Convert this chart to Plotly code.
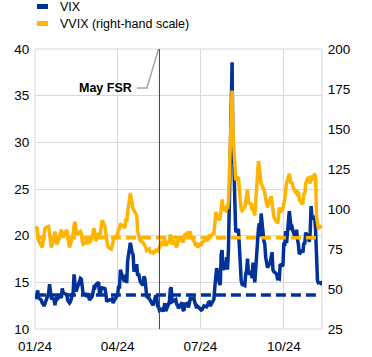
import pandas as pd
import plotly.graph_objects as go

# ---------------- data ----------------
vix_jan = [13.20, 14.04, 14.13, 13.35, 13.08, 12.76, 12.69, 12.44, 12.70, 13.84, 14.79, 14.13, 13.30, 13.19, 12.55, 13.14, 13.45, 13.26, 13.60, 13.31, 14.35]
vix_feb = [13.88, 13.85, 13.67, 13.06, 12.83, 12.79, 12.93, 13.93, 15.85, 14.38, 14.01, 14.24, 15.42, 15.34, 14.54, 13.75, 13.74, 13.43, 13.84, 13.40]
vix_mar = [13.11, 13.49, 14.46, 14.50, 14.44, 14.74, 15.01, 13.75, 13.75, 14.40, 14.41, 14.33, 13.82, 12.92, 13.06, 13.06, 13.19, 13.24, 12.78, 13.01]
vix_apr = [13.65, 14.61, 14.33, 16.35, 16.03, 15.19, 15.20, 15.80, 14.91, 17.31, 19.23, 18.40, 18.21, 18.00, 16.14, 16.94, 15.69, 15.97, 15.37, 15.03, 14.67, 15.65]
vix_may = [15.39, 14.68, 13.49, 13.23, 13.00, 12.69, 12.69, 12.55, 13.60, 13.42, 12.45, 12.42, 11.99, 12.15, 11.86, 12.29, 12.77, 11.93, 12.92, 14.28, 14.47, 12.92]
vix_jun = [13.11, 13.16, 12.63, 12.58, 12.22, 12.74, 12.85, 12.04, 11.94, 12.66, 12.75, 12.30, 13.28, 13.20, 13.33, 12.84, 12.55, 12.24, 12.44]
vix_jul = [12.22, 12.03, 12.09, 12.48, 12.37, 12.51, 12.85, 12.89, 12.46, 13.12, 13.19, 14.48, 15.93, 16.52, 14.91, 14.72, 18.04, 18.46, 16.39, 16.60, 17.69, 16.36]
vix_aug = [18.59, 23.39, 38.57, 27.71, 27.85, 23.79, 20.37, 20.71, 18.12, 16.19, 15.23, 14.80, 14.65, 15.88, 16.27, 17.55, 15.86, 16.15, 15.43, 17.11, 15.65, 15.00]
vix_sep = [20.72, 21.32, 19.90, 22.38, 19.45, 19.08, 17.69, 17.07, 16.56, 17.14, 17.61, 18.23, 16.33, 16.15, 15.89, 15.39, 15.41, 15.37, 16.96, 16.73]
vix_oct = [19.26, 18.90, 20.49, 19.21, 22.64, 21.42, 20.86, 20.93, 20.46, 19.70, 20.64, 19.58, 19.11, 18.03, 18.37, 18.20, 19.24, 19.08, 20.33, 19.80, 19.34, 20.35, 23.16]
vix_nov = [21.88, 21.98, 20.49, 16.27, 15.20, 14.94, 14.97, 14.71]

vvix_jan = [87, 89, 84, 80, 77, 76, 80, 85, 88, 89, 84, 78, 76, 82, 86, 81, 78, 79, 84, 87, 85]
vvix_feb = [82, 84, 87, 83, 79, 76, 78, 84, 90, 92, 88, 84, 86, 85, 80, 78, 79, 81, 78, 80]
vvix_mar = [79, 82, 86, 88, 84, 80, 85, 82, 86, 91, 93, 89, 84, 78, 77, 76, 75, 77, 79, 82]
vvix_apr = [84, 88, 87, 91, 90, 89, 88, 94, 92, 98, 110, 106, 102, 100, 99, 96, 86, 84, 82, 80, 79, 78]
vvix_may = [78, 76, 74, 75, 73, 73, 74, 72, 74, 75, 73, 74, 76, 80, 77, 79, 81, 77, 80, 84, 82, 78]
vvix_jun = [80, 78, 76, 79, 82, 80, 83, 79, 81, 84, 85, 83, 86, 82, 80, 78, 77, 79, 76]
vvix_jul = [78, 77, 79, 80, 81, 80, 83, 84, 82, 85, 84, 92, 98, 97, 93, 95, 104, 106, 100, 99, 102, 100]
vvix_aug = [105, 125, 174, 148, 137, 122, 118, 120, 110, 105, 100, 99, 101, 104, 107, 112, 104, 103, 99, 103, 98, 96]
vvix_sep = [130, 125, 118, 116, 112, 110, 106, 103, 101, 106, 108, 104, 96, 95, 92, 91, 94, 101, 98, 100]
vvix_oct = [104, 106, 112, 116, 122, 118, 116, 117, 114, 110, 112, 108, 111, 106, 103, 104, 110, 109, 116, 120, 118, 116, 121]
vvix_nov = [118, 122, 120, 95, 90, 88, 89, 90]

start_date = "2024-01-02"
end_date = "2024-11-12"
us_holidays = ["2024-01-15", "2024-02-19", "2024-03-29", "2024-05-27",
               "2024-06-19", "2024-07-04", "2024-09-02"]

vix_avg = [13.65, 13.65]          # long-term averages (dashed)
vvix_avg = [82.0, 82.0]
avg_dates = ["2024-01-02", "2024-11-10"]

fsr_date = "2024-05-17"
fsr_label = "May FSR"

tick_dates = ["2024-01-01", "2024-04-01", "2024-07-01", "2024-10-01"]
tick_labels = ["01/24", "04/24", "07/24", "10/24"]

series_names = ["VIX", "VVIX (right-hand scale)"]

# ---------------- build ----------------
dates = pd.bdate_range(start_date, end_date, freq="C", holidays=us_holidays)
vix = (vix_jan + vix_feb + vix_mar + vix_apr + vix_may + vix_jun + vix_jul
       + vix_aug + vix_sep + vix_oct + vix_nov)
vvix = (vvix_jan + vvix_feb + vvix_mar + vvix_apr + vvix_may + vvix_jun + vvix_jul
        + vvix_aug + vvix_sep + vvix_oct + vvix_nov)
n = min(len(dates), len(vix), len(vvix))
dates = dates[:n]
vix = vix[:n]
vvix = vvix[:n]

BLUE = "#003299"
YELLOW = "#FFB400"
GRID = "#d9d9d9"
FONT = "Arial, Liberation Sans, sans-serif"
TICK = 13.5
LEG = 12.5

fig = go.Figure()
fig.add_trace(go.Scatter(x=avg_dates, y=vix_avg, mode="lines",
                         line=dict(color=BLUE, width=3.5, dash="10px,5px"),
                         showlegend=False, hoverinfo="skip"))
fig.add_trace(go.Scatter(x=dates, y=vix, mode="lines", name=series_names[0],
                         line=dict(color=BLUE, width=3.5), showlegend=False))
fig.add_trace(go.Scatter(x=avg_dates, y=vvix_avg, mode="lines", yaxis="y2",
                         line=dict(color=YELLOW, width=3.5, dash="10px,5px"),
                         showlegend=False, hoverinfo="skip"))
fig.add_trace(go.Scatter(x=dates, y=vvix, mode="lines", name=series_names[1], yaxis="y2",
                         line=dict(color=YELLOW, width=3.5), showlegend=False))

fig.update_layout(
    width=372, height=357,
    margin=dict(l=35, r=50, t=49, b=28, autoexpand=False),
    paper_bgcolor="white", plot_bgcolor="white",
    font=dict(family=FONT, size=TICK, color="#000000"),
    xaxis=dict(range=["2024-01-01", end_date], tickvals=tick_dates, ticktext=tick_labels,
               showgrid=True, gridcolor=GRID, gridwidth=1, zeroline=False, automargin=False,
               showline=False, ticks="outside", ticklen=5, tickcolor="rgba(0,0,0,0)",
               tickfont=dict(size=TICK)),
    yaxis=dict(range=[10, 40], dtick=5, showgrid=True, gridcolor=GRID, gridwidth=1,
               zeroline=False, showline=False, ticks="outside", ticklen=2, automargin=False,
               tickcolor="rgba(0,0,0,0)", tickfont=dict(size=TICK)),
    yaxis2=dict(range=[25, 200], dtick=25, overlaying="y", side="right",
                showgrid=False, zeroline=False, showline=False, ticks="outside", automargin=False,
                ticklen=2, tickcolor="rgba(0,0,0,0)", tickfont=dict(size=TICK)),
    showlegend=False,
)

# plot frame (grid coloured)
fig.add_shape(type="rect", xref="paper", yref="paper", x0=0, x1=1, y0=0, y1=1,
              line=dict(color=GRID, width=1), layer="below")
# FSR vertical line
fig.add_shape(type="line", xref="x", yref="paper", x0=fsr_date, x1=fsr_date, y0=0, y1=1,
              line=dict(color="#404040", width=1))
# FSR label connector
fig.add_shape(type="path", xref="paper", yref="paper",
              path="M 0.3554 0.861 L 0.390 0.861 L 0.4303 1.0",
              line=dict(color="#a6a6a6", width=1.5))
fig.add_annotation(xref="paper", yref="paper", x=0.345, y=0.861, text="<b>%s</b>" % fsr_label,
                   showarrow=False, xanchor="right", yanchor="middle",
                   font=dict(size=LEG, color="#000000", family=FONT))

# manual legend
fig.add_shape(type="rect", xref="paper", yref="paper", x0=0.007, x1=0.0453, y0=1.1429, y1=1.1607,
              line=dict(width=0), fillcolor=BLUE)
fig.add_shape(type="rect", xref="paper", yref="paper", x0=0.007, x1=0.0453, y0=1.0821, y1=1.1,
              line=dict(width=0), fillcolor=YELLOW)
fig.add_annotation(xref="paper", yref="paper", x=0.080, y=1.15, text=series_names[0],
                   showarrow=False, xanchor="left", yanchor="middle",
                   font=dict(size=LEG, color="#000000", family=FONT))
fig.add_annotation(xref="paper", yref="paper", x=0.080, y=1.0893, text=series_names[1],
                   showarrow=False, xanchor="left", yanchor="middle",
                   font=dict(size=LEG, color="#000000", family=FONT))

fig.write_html("out.html", config={"displayModeBar": False},
               post_script="document.body.style.margin='0';document.body.style.padding='0';")
